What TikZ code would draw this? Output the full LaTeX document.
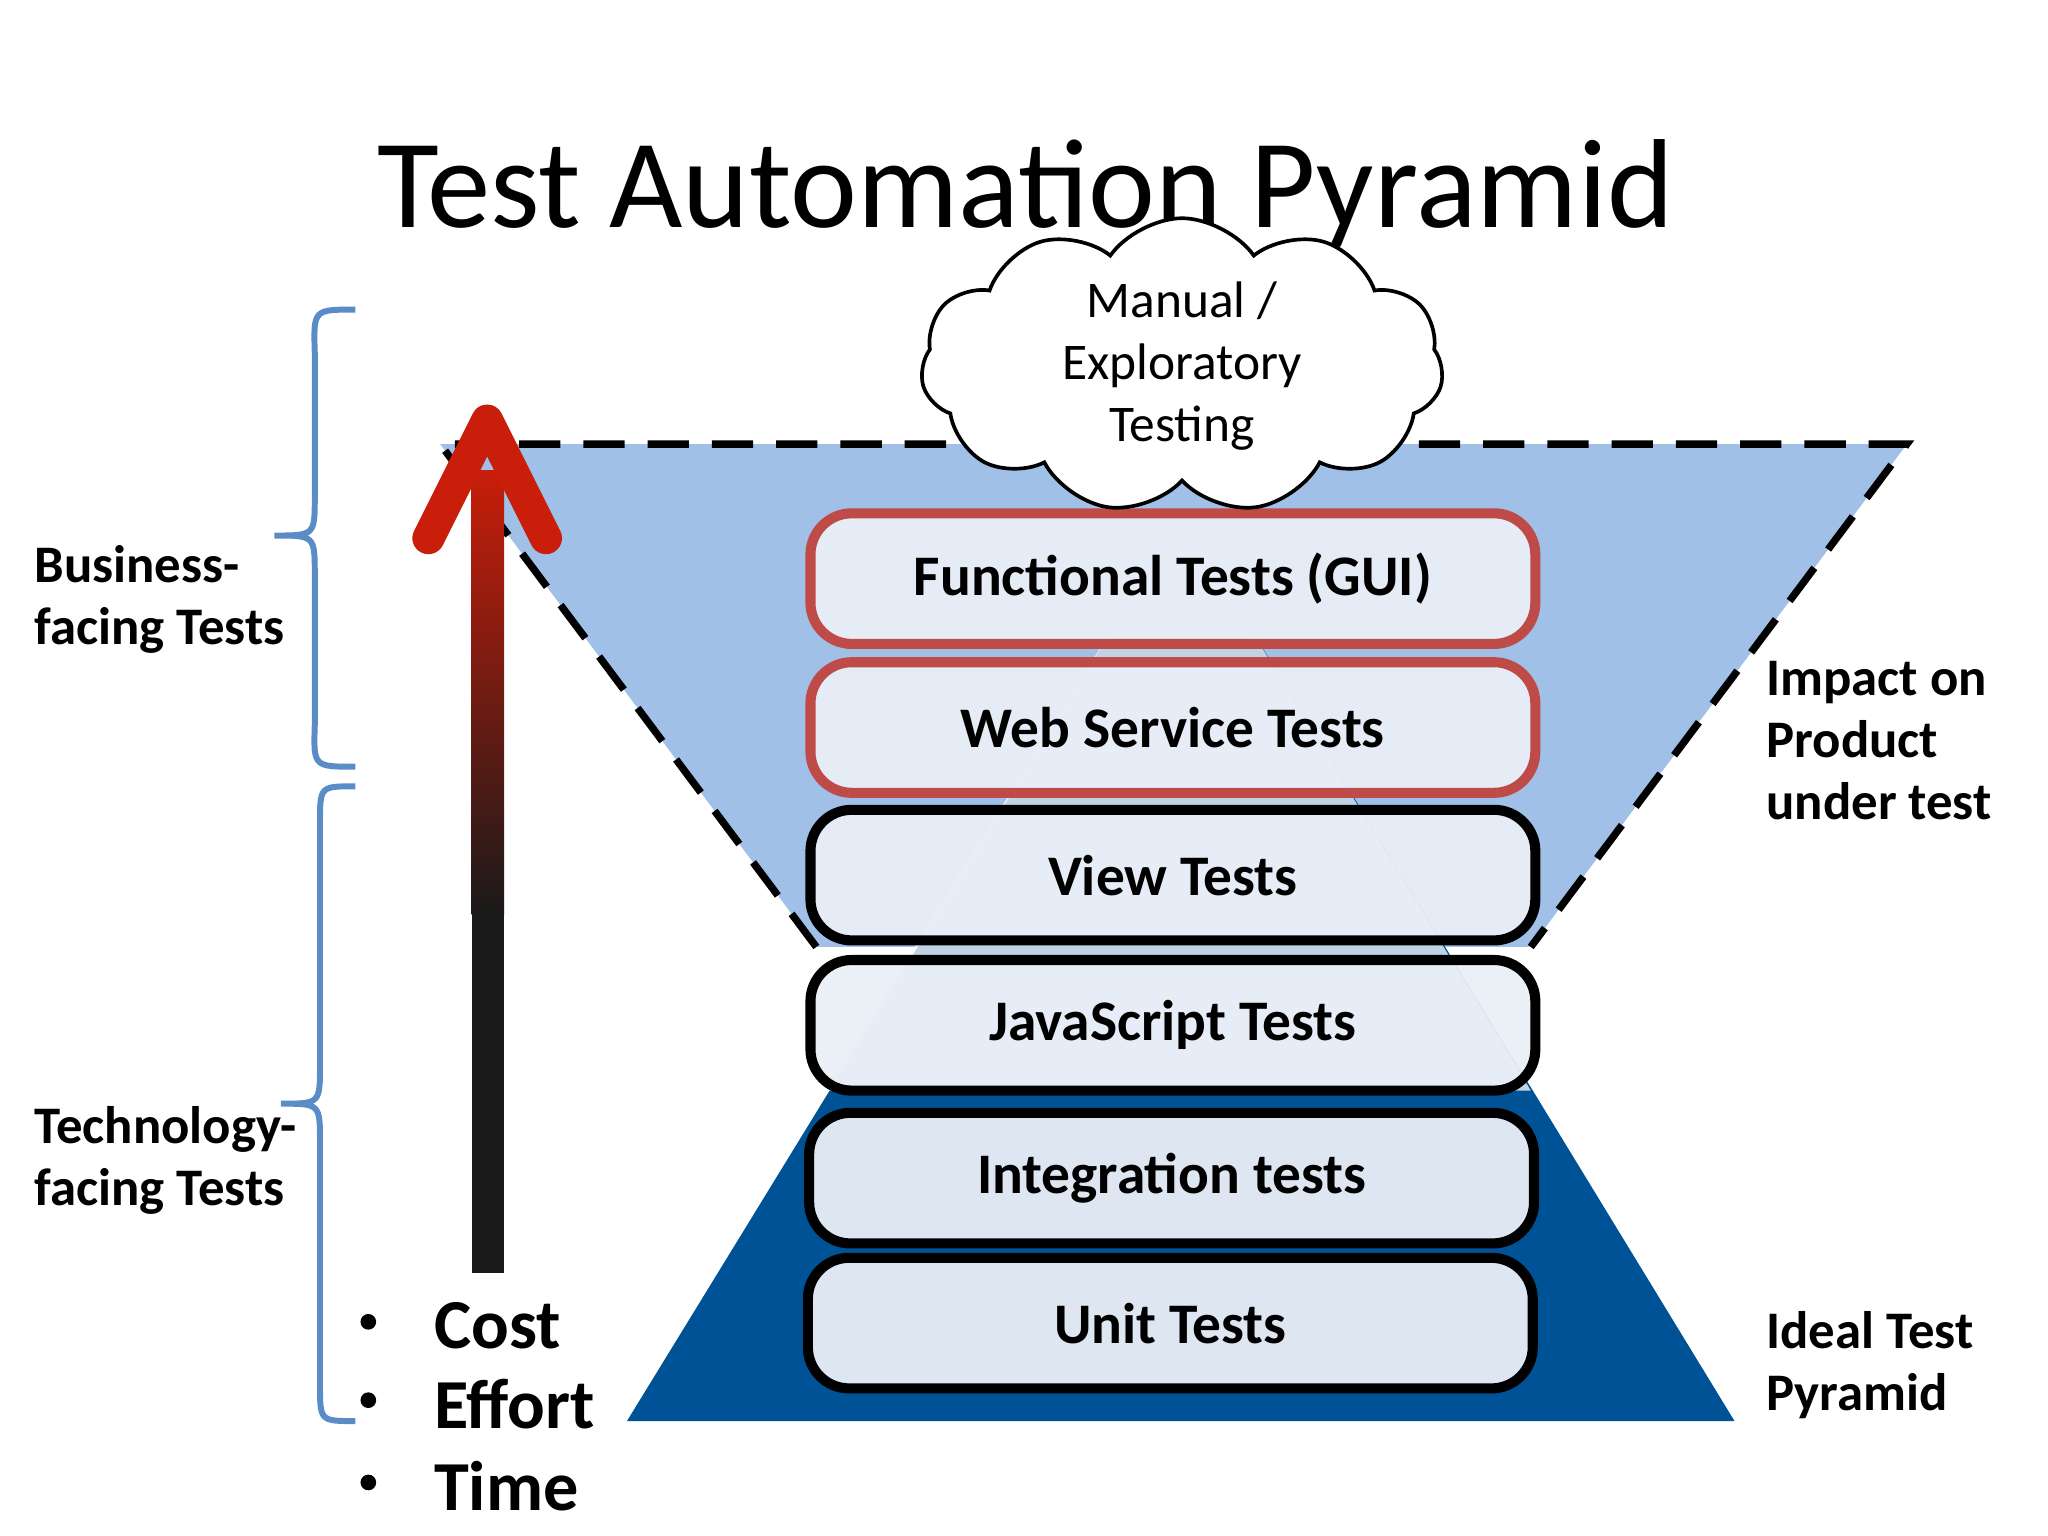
\documentclass[tikz,border=0pt]{standalone}
\usepackage{fontspec}
\setmainfont{Carlito}
\usetikzlibrary{shapes.symbols}
\definecolor{lightblue}{RGB}{160,192,232}
\definecolor{darkblue}{RGB}{0,82,150}
\definecolor{boxfill}{RGB}{234,239,247}
\definecolor{boxred}{RGB}{190,75,72}
\definecolor{bracecolor}{RGB}{90,140,200}
\definecolor{arrowred}{RGB}{200,30,10}
\tikzset{
  layer/.style={draw=black,line width=2.2pt,rounded corners=9pt,fill=boxfill,fill opacity=0.95,text opacity=1,
    minimum width=55.5mm,minimum height=10mm,font=\fontsize{12.5}{15}\selectfont\bfseries},
  redlayer/.style={layer,draw=boxred},
  sidelabel/.style={align=left,anchor=north west,font=\fontsize{11.5}{13.5}\selectfont\bfseries},
  brace/.style={draw=bracecolor,line width=1.3pt},
  bullet/.style={anchor=west,font=\fontsize{15.3}{18}\selectfont\bfseries}
}
\begin{document}
\begin{tikzpicture}[x=0.1mm,y=-0.1mm]
\useasboundingbox (0,0) rectangle (1568,1176);
\node (title) at (785,148) {\fontsize{27.6}{32}\selectfont Test Automation Pyramid};
% inverted triangle
\coordinate (tl) at (337,340);
\coordinate (tr) at (1460,340);
\coordinate (bl) at (625,725);
\coordinate (br) at (1172,725);
\fill[lightblue] (tl) -- (tr) -- (br) -- (bl) -- cycle;
\draw[line width=1.6pt,dash pattern=on 9pt off 5pt] (bl) -- (tl) -- (tr) -- (br);
% pyramid
\coordinate (apex) at (905,395);
\fill[darkblue] (apex) -- (1328,1088) -- (480,1088) -- cycle;
\fill[white,opacity=0.75] (apex) -- (1172,835) -- (632,835) -- cycle;
% layers
\node[redlayer] (gui) at (898,443) {Functional Tests (GUI)};
\node[redlayer] (ws) at (898,557) {Web Service Tests};
\node[layer] (view) at (898,670) {View Tests};
\node[layer] (js) at (898,785) {JavaScript Tests};
\node[layer] (integ) at (897,902) {Integration tests};
\node[layer] (unit) at (896,1013) {Unit Tests};
% cloud
\node[cloud,cloud puffs=11,cloud puff arc=110,draw,line width=0.8pt,fill=white,aspect=1.9,inner sep=0pt,
  minimum width=40mm,minimum height=21mm,align=center,font=\fontsize{11.2}{13.5}\selectfont] (manual) at (905,280)
  {Manual /\\Exploratory\\Testing};
% arrow
\coordinate (atail) at (373,975);
\coordinate (ahead) at (373,322);
\shade[top color=arrowred,bottom color=black!90] (361,360) rectangle (386,700);
\fill[black!90] (361,699) rectangle (386,975);
\draw[arrowred,line width=7pt,line cap=round,line join=round] (328,412) -- (ahead) -- (418,412);
% braces
\draw[brace] (272,237) .. controls (240,237) .. (241,270) -- (241,380) .. controls (241,410) .. (210,410)
  .. controls (241,410) .. (241,440) -- (241,555) .. controls (240,587) .. (272,587);
\draw[brace] (272,602) .. controls (245,602) .. (245,630) -- (245,815) .. controls (245,845) .. (215,845)
  .. controls (245,845) .. (245,875) -- (245,1060) .. controls (245,1088) .. (272,1088);
% labels
\node[sidelabel] (biz) at (14,405) {Business-\\facing Tests};
\node[sidelabel] (tech) at (14,835) {Technology-\\facing Tests};
\node[sidelabel] (impact) at (1340,494) {Impact on\\Product\\under test};
\node[sidelabel] (ideal) at (1340,992) {Ideal Test\\Pyramid};
\foreach \y/\t [count=\i] in {1015/Cost,1075/Effort,1138/Time}{
  \node[bullet] (b\i) at (320,\y) {\t};
  \fill (282,\y-3) circle (6);
}
\end{tikzpicture}
\end{document}
